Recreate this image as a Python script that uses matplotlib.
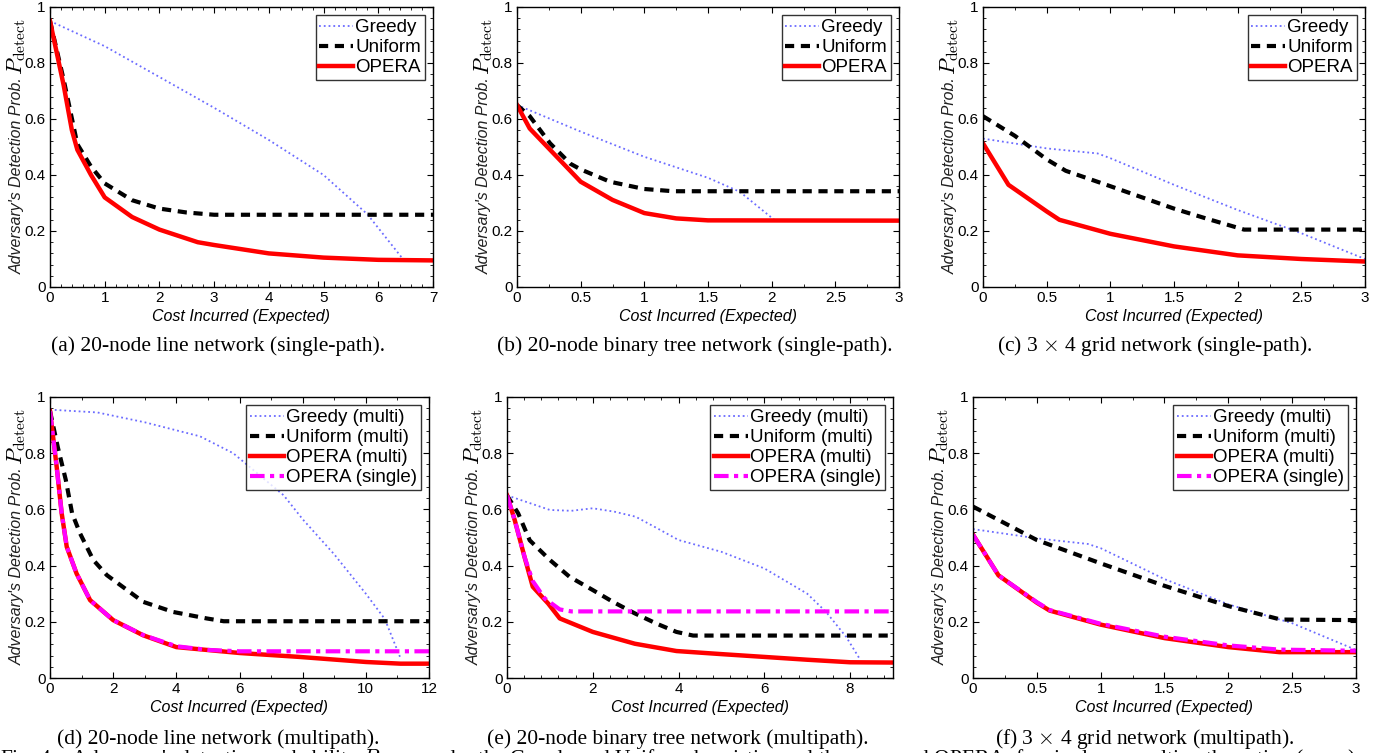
"""Six-panel detection probability vs. cost figure (Greedy / Uniform / OPERA)."""

import matplotlib.pyplot as plt
from matplotlib.ticker import AutoMinorLocator

plt.rcParams["mathtext.fontset"] = "cm"
plt.rcParams["font.family"] = ["Liberation Sans", "DejaVu Sans"]

# ── (a) 20-node line network (single-path) ───────────────────────────
a_greedy_x = [0, 1, 2, 3, 4, 5, 5.8, 6.45]
a_greedy_y = [0.95, 0.86, 0.75, 0.64, 0.525, 0.40, 0.26, 0.10]
a_uniform_x = [0, 0.25, 0.5, 0.75, 1.0, 1.5, 2.0, 2.5, 3.0, 7.0]
a_uniform_y = [0.95, 0.74, 0.51, 0.43, 0.37, 0.31, 0.28, 0.266, 0.258, 0.258]
a_opera_x = [0, 0.25, 0.4, 0.5, 0.75, 1.0, 1.5, 2.0, 2.7, 3.0, 4.0, 5.0, 6.0, 7.0]
a_opera_y = [0.95, 0.72, 0.56, 0.49, 0.40, 0.32, 0.25, 0.205, 0.16, 0.15, 0.12, 0.105, 0.097, 0.095]

# ── (b) 20-node binary tree network (single-path) ────────────────────
b_greedy_x = [0, 0.5, 1.0, 1.5, 1.75, 2.02]
b_greedy_y = [0.65, 0.555, 0.465, 0.39, 0.34, 0.24]
b_uniform_x = [0, 0.1, 0.26, 0.42, 0.5, 0.73, 1.0, 1.23, 3.0]
b_uniform_y = [0.65, 0.61, 0.513, 0.44, 0.42, 0.376, 0.35, 0.342, 0.342]
b_opera_x = [0, 0.1, 0.5, 0.75, 1.0, 1.25, 1.5, 3.0]
b_opera_y = [0.65, 0.566, 0.376, 0.311, 0.264, 0.245, 0.238, 0.237]

# ── (c) 3x4 grid network (single-path) ───────────────────────────────
c_greedy_x = [0, 0.5, 0.9, 1.0, 1.5, 2.0, 2.5, 3.0]
c_greedy_y = [0.53, 0.495, 0.477, 0.46, 0.365, 0.275, 0.192, 0.10]
c_uniform_x = [0, 0.25, 0.5, 0.65, 1.0, 1.5, 1.75, 2.05, 3.0]
c_uniform_y = [0.61, 0.54, 0.456, 0.415, 0.36, 0.28, 0.245, 0.205, 0.205]
c_opera_x = [0, 0.2, 0.5, 0.6, 1.0, 1.5, 2.0, 2.5, 3.0]
c_opera_y = [0.513, 0.365, 0.27, 0.24, 0.19, 0.145, 0.113, 0.10, 0.091]

# ── (d) 20-node line network (multipath) ─────────────────────────────
d_greedy_x = [0, 1.5, 3.0, 4.75, 5.8, 7.4, 8.0, 9.0, 10.0, 10.6, 11.1]
d_greedy_y = [0.955, 0.945, 0.91, 0.86, 0.80, 0.65, 0.565, 0.44, 0.30, 0.21, 0.07]
d_uniform_x = [0, 0.25, 0.5, 0.7, 0.95, 1.37, 1.8, 2.95, 3.9, 4.96, 5.5, 12.0]
d_uniform_y = [0.95, 0.82, 0.705, 0.586, 0.515, 0.42, 0.366, 0.271, 0.235, 0.212, 0.202, 0.202]
d_opera_x = [0, 0.21, 0.37, 0.53, 0.84, 1.27, 2.0, 2.95, 4.0, 6.0, 7.9, 10.0, 11.1, 12.0]
d_opera_y = [0.95, 0.753, 0.586, 0.467, 0.372, 0.277, 0.206, 0.152, 0.11, 0.089, 0.075, 0.057, 0.051, 0.051]
d_single_x = [0, 0.21, 0.37, 0.53, 0.84, 1.27, 2.0, 2.95, 4.0, 5.0, 6.0, 12.0]
d_single_y = [0.95, 0.753, 0.586, 0.467, 0.372, 0.277, 0.206, 0.153, 0.113, 0.10, 0.095, 0.095]

# ── (e) 20-node binary tree network (multipath) ──────────────────────
e_greedy_x = [0, 1.0, 1.5, 2.0, 2.5, 3.0, 3.5, 4.0, 5.0, 6.0, 7.0, 7.44, 7.91, 8.22]
e_greedy_y = [0.65, 0.598, 0.595, 0.604, 0.592, 0.574, 0.533, 0.491, 0.449, 0.39, 0.30, 0.235, 0.146, 0.069]
e_uniform_x = [0, 0.26, 0.53, 1.0, 1.46, 2.0, 2.47, 2.98, 3.48, 3.95, 4.34, 9.0]
e_uniform_y = [0.65, 0.586, 0.49, 0.42, 0.36, 0.313, 0.271, 0.23, 0.194, 0.164, 0.151, 0.151]
e_opera_x = [0, 0.18, 0.41, 0.6, 0.96, 1.23, 2.0, 2.98, 3.95, 5.0, 6.0, 7.0, 8.0, 9.0]
e_opera_y = [0.65, 0.562, 0.43, 0.325, 0.265, 0.212, 0.164, 0.122, 0.096, 0.085, 0.075, 0.065, 0.056, 0.055]
e_single_x = [0, 0.18, 0.41, 0.6, 0.88, 1.23, 1.5, 9.0]
e_single_y = [0.65, 0.562, 0.43, 0.345, 0.283, 0.244, 0.237, 0.237]

# ── (f) 3x4 grid network (multipath) ─────────────────────────────────
f_greedy_x = [0, 0.5, 0.9, 1.0, 1.5, 2.0, 2.5, 3.0]
f_greedy_y = [0.53, 0.497, 0.477, 0.462, 0.352, 0.262, 0.195, 0.10]
f_uniform_x = [0, 0.5, 1.0, 1.5, 2.0, 2.41, 3.0]
f_uniform_y = [0.61, 0.491, 0.408, 0.328, 0.256, 0.208, 0.206]
f_opera_x = [0, 0.2, 0.5, 0.6, 1.0, 1.5, 2.0, 2.4, 3.0]
f_opera_y = [0.51, 0.365, 0.268, 0.24, 0.19, 0.142, 0.11, 0.092, 0.092]
f_single_x = [0, 0.2, 0.5, 0.6, 1.0, 1.5, 2.0, 2.4, 3.0]
f_single_y = [0.51, 0.365, 0.27, 0.242, 0.193, 0.147, 0.116, 0.101, 0.097]

CAPTIONS = [
    "(a) 20-node line network (single-path).",
    "(b) 20-node binary tree network (single-path).",
    r"(c) 3 $\times$ 4 grid network (single-path).",
    "(d) 20-node line network (multipath).",
    "(e) 20-node binary tree network (multipath).",
    r"(f) 3 $\times$ 4 grid network (multipath).",
]
XLIMS = [7, 3, 3, 12, 9, 3]
XTICKS = [
    [0, 1, 2, 3, 4, 5, 6, 7],
    [0, 0.5, 1, 1.5, 2, 2.5, 3],
    [0, 0.5, 1, 1.5, 2, 2.5, 3],
    [0, 2, 4, 6, 8, 10, 12],
    [0, 2, 4, 6, 8],
    [0, 0.5, 1, 1.5, 2, 2.5, 3],
]
YTICKS = [0, 0.2, 0.4, 0.6, 0.8, 1]

# axes boxes in pixels: left, right, top, bottom
BOXES = [
    (50, 433, 7, 287), (517, 899, 7, 287), (983, 1365, 7, 287),
    (50, 429, 397, 678), (507, 893, 397, 678), (973, 1356, 397, 678),
]
CAPTION_POS = [(218, 346), (695, 346), (1155, 346), (218, 739), (678, 739), (1145, 739)]

W, H = 1390, 753
GREEDY = dict(color="#6b6bff", linestyle=":", linewidth=1.3)
UNIFORM = dict(color="black", linestyle=(0, (2.2, 1.6)), linewidth=3.0)
OPERA = dict(color="#ff0000", linestyle="-", linewidth=3.2)
SINGLE = dict(color="#ff00ff", linestyle=(0, (3.5, 1.3, 1, 1.3)), linewidth=3.0)

SERIF = "Liberation Serif"


def fmt(v):
    return f"{v:g}"


fig = plt.figure(figsize=(W / 100, H / 100), dpi=100)
renderer = fig.canvas.get_renderer()

panels = [
    [(a_greedy_x, a_greedy_y), (a_uniform_x, a_uniform_y), (a_opera_x, a_opera_y)],
    [(b_greedy_x, b_greedy_y), (b_uniform_x, b_uniform_y), (b_opera_x, b_opera_y)],
    [(c_greedy_x, c_greedy_y), (c_uniform_x, c_uniform_y), (c_opera_x, c_opera_y)],
    [(d_greedy_x, d_greedy_y), (d_uniform_x, d_uniform_y), (d_opera_x, d_opera_y), (d_single_x, d_single_y)],
    [(e_greedy_x, e_greedy_y), (e_uniform_x, e_uniform_y), (e_opera_x, e_opera_y), (e_single_x, e_single_y)],
    [(f_greedy_x, f_greedy_y), (f_uniform_x, f_uniform_y), (f_opera_x, f_opera_y), (f_single_x, f_single_y)],
]

for i, series in enumerate(panels):
    l, r, t, b = BOXES[i]
    ax = fig.add_axes([l / W, 1 - b / H, (r - l) / W, (b - t) / H])
    multi = len(series) == 4
    if multi:
        labels = ["Greedy (multi)", "Uniform (multi)", "OPERA (multi)", "OPERA (single)"]
        styles = [GREEDY, UNIFORM, OPERA, SINGLE]
    else:
        labels = ["Greedy", "Uniform", "OPERA"]
        styles = [GREEDY, UNIFORM, OPERA]
    for (x, y), lab, st in zip(series, labels, styles):
        ax.plot(x, y, label=lab, **st)

    ax.set_xlim(0, XLIMS[i])
    ax.set_ylim(0, 1)
    ax.set_xticks(XTICKS[i])
    ax.set_xticklabels([fmt(v) for v in XTICKS[i]])
    ax.set_yticks(YTICKS)
    ax.set_yticklabels([fmt(v) for v in YTICKS])
    ax.xaxis.set_minor_locator(AutoMinorLocator(2 if XLIMS[i] in (3, 12) else 5))
    ax.yaxis.set_minor_locator(AutoMinorLocator(5))
    ax.tick_params(which="both", direction="in", top=True, right=True, labelsize=11, pad=3)
    ax.tick_params(which="major", length=4, width=0.8)
    ax.tick_params(which="minor", length=2, width=0.6)
    for s in ax.spines.values():
        s.set_linewidth(1.0)

    ax.set_xlabel("Cost Incurred (Expected)", fontsize=11.5, style="italic", labelpad=3)

    # y label: italic sans text (sized to its span) plus a larger math P_detect at the top
    base_x = (l - 28) / W
    ylab = fig.text(base_x, 1 - (b - 13) / H, "Adversary's Detection Prob.", rotation=90,
                    rotation_mode="anchor", ha="left", va="baseline", fontsize=12,
                    style="italic", color="#202020")
    span = ylab.get_window_extent(renderer).height
    ylab.set_fontsize(12 * (b - t - 83) / span)
    fig.text(base_x, 1 - (t + 11) / H, r"$P_{\mathrm{detect}}$", rotation=90,
             rotation_mode="anchor", ha="right", va="baseline", fontsize=16)

    leg = ax.legend(loc="upper right", fontsize=13.5, frameon=True, fancybox=False,
                    handlelength=1.8, handletextpad=0.1, borderpad=0.2,
                    labelspacing=0.15, borderaxespad=0.45)
    leg.get_frame().set_edgecolor("black")
    leg.get_frame().set_linewidth(1.0)

    cx, cy = CAPTION_POS[i]
    fig.text(cx / W, 1 - cy / H, CAPTIONS[i], ha="center", va="center",
             fontsize=15.5, family=SERIF)

fig.text(0.0, -11 / H,
         r"Fig. 4.   Adversary's detection probability $P_{\mathrm{detect}}$ under the Greedy and "
         "Uniform heuristics and the proposed OPERA, for single- or multi-path routing (cases).",
         ha="left", va="baseline", fontsize=15.5, family=SERIF)

fig.savefig("out.png", dpi=100)
